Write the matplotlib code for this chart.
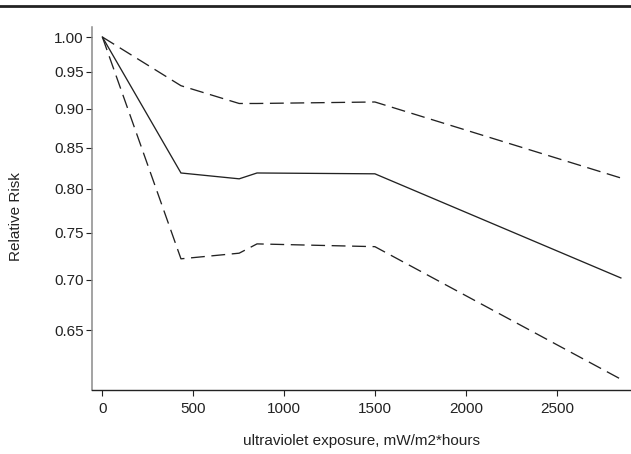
import matplotlib

matplotlib.use("Agg")
import matplotlib.pyplot as plt
from matplotlib.lines import Line2D
from matplotlib.ticker import FixedLocator, FormatStrFormatter, NullLocator

plt.rcParams["font.family"] = ["Liberation Sans", "DejaVu Sans"]

# UV exposure (mW/m2*hours) and relative risk with 95% CI
uv = [0, 432, 752, 850, 1498, 2850]
rr = [1.00, 0.819, 0.812, 0.819, 0.818, 0.702]
ci_upper = [1.00, 0.931, 0.907, 0.907, 0.909, 0.813]
ci_lower = [1.00, 0.722, 0.728, 0.738, 0.735, 0.605]

y_ticks = [1.00, 0.95, 0.90, 0.85, 0.80, 0.75, 0.70, 0.65]
x_ticks = [0, 500, 1000, 1500, 2000, 2500]

INK = "#222222"
FS = 11

fig = plt.figure(figsize=(6.31, 4.54), dpi=100)
ax = fig.add_axes([0.1458, 0.141, 0.854, 0.7995])

ax.plot(uv, rr, color=INK, linewidth=0.95, solid_joinstyle="miter")
for band in (ci_upper, ci_lower):
    ax.plot(uv, band, color=INK, linewidth=0.95, dashes=(10.5, 5))

ax.set_yscale("log")
ax.set_ylim(0.5955, 1.0148)
ax.set_xlim(-57, 2905)

ax.yaxis.set_major_locator(FixedLocator(y_ticks))
ax.yaxis.set_major_formatter(FormatStrFormatter("%.2f"))
ax.yaxis.set_minor_locator(NullLocator())
ax.xaxis.set_major_locator(FixedLocator(x_ticks))

for side in ("top", "right"):
    ax.spines[side].set_visible(False)
ax.spines["left"].set_color("#8a8a8a")
ax.spines["left"].set_linewidth(1.1)
ax.spines["bottom"].set_color(INK)
ax.spines["bottom"].set_linewidth(1.0)

ax.tick_params(axis="both", direction="out", length=4.5, width=0.8,
               colors=INK, labelsize=FS, labelcolor=INK)
ax.tick_params(axis="y", pad=1.5)
ax.tick_params(axis="x", pad=4)

ax.set_xlabel("ultraviolet exposure, mW/m2*hours", fontsize=FS,
              color=INK, labelpad=13)
ax.set_ylabel("Relative Risk", fontsize=FS, color=INK, labelpad=22)
ax.yaxis.set_label_coords(-0.128, 0.477)

# thick rule across the top of the page
fig.add_artist(Line2D([0, 1], [1 - 6.3 / 454] * 2, transform=fig.transFigure,
                      color=INK, linewidth=2.0))

fig.savefig("out.png", dpi=100, facecolor="white")
